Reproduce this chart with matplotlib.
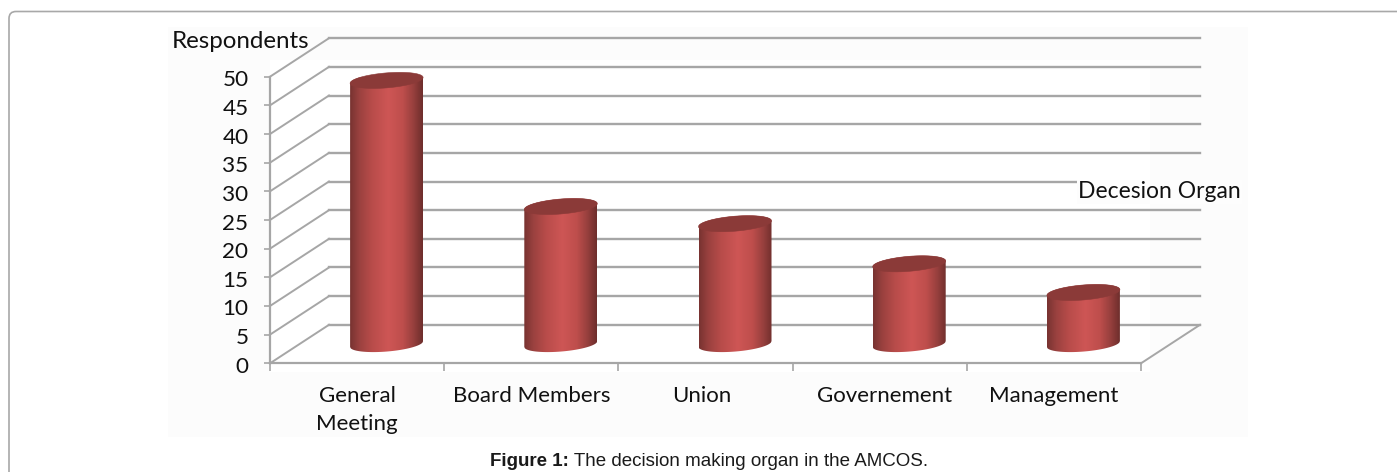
import numpy as np
import matplotlib
matplotlib.use("Agg")
import matplotlib.pyplot as plt
from matplotlib.patches import Rectangle, Polygon, PathPatch
from matplotlib.path import Path
from matplotlib.transforms import ScaledTranslation

categories = ["General\nMeeting", "Board Members", "Union", "Governement", "Management"]
values = [46, 24, 21, 14, 9]
y_ticks = [0, 5, 10, 15, 20, 25, 30, 35, 40, 45, 50]
y_title = "Respondents"
x_title = "Decesion Organ"
caption_bold = "Figure 1:"
caption_text = " The decision making organ in the AMCOS."

W, H = 1397, 472
FONT = "Lato"
GRID = "#a6a6a6"
fig = plt.figure(figsize=(W / 100, H / 100), dpi=100, facecolor="white")


def fx(p):
    return p / W


def fy(p):
    return 1 - p / H


# paper border and faint image background
fig.add_artist(Rectangle((fx(168), fy(437)), fx(1080), fy(27) - fy(437), transform=fig.transFigure,
                         facecolor="#fcfcfc", edgecolor="none", zorder=-3))
fig.add_artist(Rectangle((fx(270), fy(372)), fx(880), fy(60) - fy(372), transform=fig.transFigure,
                         facecolor="white", edgecolor="none", zorder=-2))
r = 7
verts = [(fx(9), fy(472)), (fx(9), fy(11.5 + r)), (fx(9), fy(11.5)), (fx(9 + r), fy(11.5)), (fx(1397), fy(11.5))]
codes = [Path.MOVETO, Path.LINETO, Path.CURVE3, Path.CURVE3, Path.LINETO]
fig.add_artist(PathPatch(Path(verts, codes), transform=fig.transFigure, facecolor="none",
                         edgecolor="#a8a8a8", lw=1.2, zorder=-1))

# front plane of the 3-D chart
left, right, bottom, top = 270, 1141, 363.3, 76.7
ax = fig.add_axes([fx(left), fy(bottom), fx(right - left), fy(top) - fy(bottom)])
ax.patch.set_alpha(0)
n = len(categories)
px_x = (right - left) / n
px_y = (bottom - top) / 50
depth_x = 59 / px_x
depth_y = 38.5 / px_y

for s in ("top", "right"):
    ax.spines[s].set_visible(False)
for s in ("left", "bottom"):
    ax.spines[s].set_color(GRID)
    ax.spines[s].set_linewidth(1.6)

# back wall gridlines and floor/side diagonals
for v in y_ticks:
    ax.plot([depth_x, n + depth_x], [v + depth_y, v + depth_y], color=GRID, lw=1.7, clip_on=False, zorder=1)
    ax.plot([0, depth_x], [v, v + depth_y], color=GRID, lw=1.4, clip_on=False, zorder=1)
ax.plot([n, n + depth_x], [0, depth_y], color=GRID, lw=1.4, clip_on=False, zorder=1)

# cylinders: horizontal gradient clipped to the cylinder outline
half_w = 36.5 / px_x
semi = 7.5 / px_y
tilt = 2.9 / px_y
stops_u = [-1.0, -0.75, -0.4, 0.05, 0.45, 0.75, 1.0]
stops_c = np.array([[0x78, 0x33, 0x31], [0x9a, 0x41, 0x3f], [0xb8, 0x4c, 0x4a], [0xce, 0x56, 0x55],
                    [0xbe, 0x4e, 0x4c], [0x96, 0x3f, 0x3d], [0x6e, 0x2e, 0x2c]]) / 255
grad_u = np.linspace(-1, 1, 146)
gradient = np.stack([np.interp(grad_u, stops_u, stops_c[:, k]) for k in range(3)], axis=-1)[None, :, :]
for i, v in enumerate(values):
    cx = i + 0.5 + depth_x / 2
    base = depth_y / 2
    uu = np.linspace(-1, 1, 121)
    arc = semi * np.sqrt(1 - uu ** 2)
    xs = cx + half_w * uu
    outline = np.column_stack([np.r_[xs, xs[::-1]],
                               np.r_[base + tilt * uu - arc, (base + v + tilt * uu + arc)[::-1]]])
    clip = Polygon(outline, closed=True, transform=ax.transData, facecolor="none", edgecolor="none")
    ax.add_patch(clip)
    im = ax.imshow(gradient, extent=[cx - half_w, cx + half_w, base - semi - tilt, base + v + semi + tilt],
                   aspect="auto", interpolation="bilinear", zorder=3)
    im.set_clip_path(clip)
    th = np.linspace(0, 2 * np.pi, 120)
    ut = np.cos(th)
    ax.fill(cx + half_w * ut, base + v + tilt * ut + semi * np.sin(th), color="#8b3a38", lw=0.4,
            clip_on=False, zorder=4)

ax.set_xlim(0, n)
ax.set_ylim(0, 50)

ax.set_yticks(y_ticks)
ax.set_yticklabels([str(v) for v in y_ticks], fontsize=16.2, family=FONT, color="#111111")
ax.tick_params(axis="y", length=4.5, width=1.2, color=GRID, pad=11)
shift = ScaledTranslation(0, -1.5 / 100, fig.dpi_scale_trans)
for lab in ax.get_yticklabels():
    lab.set_transform(lab.get_transform() + shift)
ax.set_xticks(np.arange(n + 1))
ax.set_xticklabels([])
ax.tick_params(axis="x", which="major", length=6, width=1.2, color=GRID)
label_nudge = [0.0, 0.0, -0.02, 0.03, 0.0]
ax.set_xticks(np.arange(n) + 0.5 + np.array(label_nudge), minor=True)
ax.set_xticklabels(categories, minor=True, fontsize=16, family=FONT, color="#111111", linespacing=1.5)
ax.tick_params(axis="x", which="minor", length=0, pad=16)

# axis titles
fig.text(fx(172), fy(42), y_title, fontsize=17.4, family=FONT, color="#111111", ha="left", va="center")
fig.text(fx(1078), fy(192), x_title, fontsize=16.5, family=FONT, color="#111111", ha="left", va="center",
         bbox=dict(facecolor="#fdfdfd", edgecolor="none", pad=1), zorder=6)

# caption
cap = fig.text(fx(490), fy(466), caption_bold, fontsize=13.5, family="Liberation Sans", fontweight="bold",
               color="#1a1a1a", ha="left", va="baseline")
ax.annotate(caption_text, xy=(1, 0), xycoords=cap, xytext=(0, 0), textcoords="offset points",
            fontsize=13.5, family="Liberation Sans", color="#1a1a1a", ha="left", va="bottom",
            annotation_clip=False)

fig.savefig("out.png", dpi=100, facecolor="white")
